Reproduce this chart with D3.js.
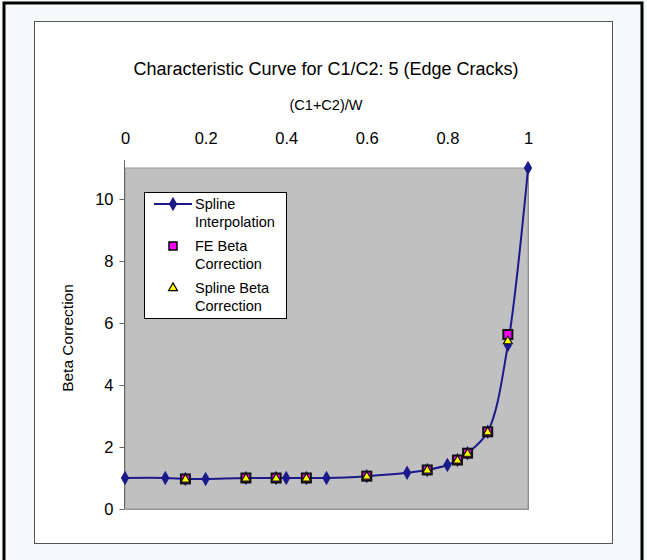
<!DOCTYPE html>
<html><head><meta charset="utf-8">
<script src="https://cdn.jsdelivr.net/npm/d3@7"></script>
<style>body{margin:0;background:#f6fafa;}svg{display:block;font-family:"Liberation Sans",Arial,sans-serif;}</style>
</head><body><svg id="c" width="647" height="560"></svg>
<script>
const title = "Characteristic Curve for C1/C2: 5 (Edge Cracks)";
const xTitle = "(C1+C2)/W";
const yTitle = "Beta Correction";
const xTicks = [0, 0.2, 0.4, 0.6, 0.8, 1];
const yTicks = [0, 2, 4, 6, 8, 10];
const splineX = [0, 0.1, 0.15, 0.2, 0.3, 0.375, 0.4, 0.45, 0.5, 0.6, 0.7, 0.75, 0.8, 0.825, 0.85, 0.9, 0.95, 1];
const splineY = [1.0, 1.0, 0.97, 0.97, 1.0, 1.0, 1.0, 1.0, 1.0, 1.06, 1.17, 1.26, 1.42, 1.58, 1.8, 2.49, 5.29, 11.0];
const feX = [0.15, 0.3, 0.375, 0.45, 0.6, 0.75, 0.825, 0.85, 0.9, 0.95];
const feY = [0.97, 1.0, 1.0, 1.0, 1.06, 1.26, 1.58, 1.8, 2.49, 5.63];
const sbX = [0.15, 0.3, 0.375, 0.45, 0.6, 0.75, 0.825, 0.85, 0.9, 0.95];
const sbY = [0.97, 1.0, 1.0, 1.0, 1.06, 1.26, 1.58, 1.8, 2.49, 5.43];
const legendLabels = [["Spline","Interpolation"],["FE Beta","Correction"],["Spline Beta","Correction"]];

const svg = d3.select("#c");
svg.append("rect").attr("x",4).attr("y",3).attr("width",638).attr("height",562).attr("fill","#f6fafa").attr("stroke","#000").attr("stroke-width",3);
svg.append("rect").attr("x",34.5).attr("y",21.5).attr("width",578).attr("height",522).attr("fill","#fff").attr("stroke","#555").attr("stroke-width",1);

const x = d3.scaleLinear().domain([0,1]).range([125,528]);
const y = d3.scaleLinear().domain([0,11]).range([509,168]);

// plot area
svg.append("rect").attr("x",126).attr("y",169).attr("width",403).attr("height",341).attr("fill","#888");
svg.append("rect").attr("x",125).attr("y",168).attr("width",403).attr("height",341).attr("fill","#c0c0c0").attr("stroke","#9a9a9a").attr("stroke-width",1);

// axes
const gx = svg.append("g").attr("transform","translate(0,168)")
  .call(d3.axisTop(x).tickValues(xTicks).tickFormat(d3.format("")).tickSize(0).tickPadding(24));
gx.select(".domain").remove();
gx.selectAll("text").attr("font-size",16.5).attr("fill","#000").attr("font-family","Liberation Sans, Arial, sans-serif");
const gy = svg.append("g").attr("transform","translate(124.5,0)")
  .call(d3.axisLeft(y).tickValues(yTicks).tickFormat(d3.format("")).tickSize(5).tickSizeOuter(0).tickPadding(6));
gy.select(".domain").attr("stroke","#666").attr("d","M0,160V509.5");
gy.selectAll(".tick line").attr("stroke","#666");
gy.selectAll("text").attr("font-size",16.5).attr("fill","#000").attr("font-family","Liberation Sans, Arial, sans-serif");
svg.append("line").attr("x1",124.5).attr("x2",124.5).attr("y1",161).attr("y2",168).attr("stroke","#666");

svg.append("text").attr("x",326).attr("y",75).attr("text-anchor","middle").attr("font-size",18).text(title);
svg.append("text").attr("x",326).attr("y",110).attr("text-anchor","middle").attr("font-size",14.5).text(xTitle);
svg.append("text").attr("transform","translate(73,338) rotate(-90)").attr("text-anchor","middle").attr("font-size",15.5).text(yTitle);

// line
const pts = splineX.map((d,i)=>[x(d), y(splineY[i])]);
svg.append("path").attr("d", d3.line().curve(d3.curveCatmullRom.alpha(0.5))(pts))
  .attr("fill","none").attr("stroke","#1a1a8c").attr("stroke-width",2);
const diamond = d3.symbol().type(d3.symbolDiamond).size(60);
svg.selectAll(".dia").data(pts).join("path").attr("d",diamond)
  .attr("transform",d=>`translate(${d[0]},${d[1]})`).attr("fill","#1a1a8c");

// FE squares
svg.selectAll(".sq").data(feX.map((d,i)=>[x(d),y(feY[i])])).join("rect")
  .attr("x",d=>d[0]-4.5).attr("y",d=>d[1]-4.5).attr("width",9).attr("height",9)
  .attr("fill","#ff00ff").attr("stroke","#111").attr("stroke-width",2);
// Spline beta triangles
const tri = d3.symbol().type(d3.symbolTriangle).size(34);
svg.selectAll(".tr").data(sbX.map((d,i)=>[x(d),y(sbY[i])])).join("path").attr("d",tri)
  .attr("transform",d=>`translate(${d[0]},${d[1]+0.5})`).attr("fill","#ffff00").attr("stroke","#111").attr("stroke-width",1.2);

// legend
const lg = svg.append("g");
lg.append("rect").attr("x",144.5).attr("y",192.5).attr("width",142).attr("height",126).attr("fill","#fff").attr("stroke","#000").attr("stroke-width",1);
lg.append("line").attr("x1",154).attr("x2",192).attr("y1",204).attr("y2",204).attr("stroke","#1a1a8c").attr("stroke-width",2);
lg.append("path").attr("d",diamond).attr("transform","translate(173,204)").attr("fill","#1a1a8c");
lg.append("rect").attr("x",169).attr("y",242).attr("width",8).attr("height",8).attr("fill","#ff00ff").attr("stroke","#000").attr("stroke-width",1.5);
lg.append("path").attr("d",tri).attr("transform","translate(173,288)").attr("fill","#ffff00").attr("stroke","#000").attr("stroke-width",1.2);
legendLabels.forEach((l,i)=>{
  const yy = 209 + i*42;
  lg.append("text").attr("x",195).attr("y",yy).attr("font-size",14.5).text(l[0]);
  lg.append("text").attr("x",195).attr("y",yy+18).attr("font-size",14.5).text(l[1]);
});
</script></body></html>
